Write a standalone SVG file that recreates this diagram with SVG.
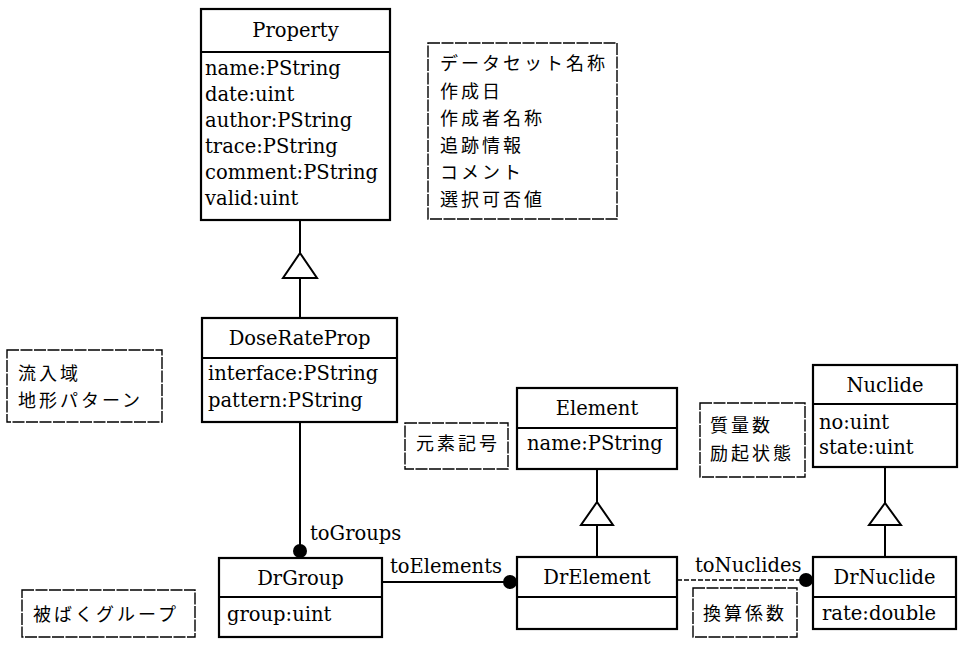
<svg xmlns="http://www.w3.org/2000/svg" width="965" height="651" viewBox="0 0 965 651">
<style>
.bg{fill:#fff}
.cls{fill:#fff;stroke:#000;stroke-width:2.2}
.div{stroke:#000;stroke-width:1.8}
.note{fill:#fff;stroke:#000;stroke-width:1.4;stroke-dasharray:12 1.5}
.t{font-family:"DejaVu Serif","Liberation Serif",serif;font-size:19.5px;fill:#000}
.c{text-anchor:middle}
.j{font-family:"Noto Sans CJK JP","Noto Sans",sans-serif;font-size:18px;letter-spacing:3px;fill:#000}
.ln{stroke:#000;stroke-width:2;fill:none}
.ln2{stroke:#000;stroke-width:1.6;fill:none;stroke-dasharray:5 2}
.tri{fill:#fff;stroke:#000;stroke-width:2}
.dot{fill:#000}
</style>
<rect class="bg" x="0" y="0" width="965" height="651"/>

<g id="Property">
<rect class="cls" x="201" y="9" width="189" height="211"/>
<line class="div" x1="201" y1="52" x2="390" y2="52"/>
<text class="t c" x="295.5" y="37">Property</text>
<text class="t" x="205" y="75">name:PString</text>
<text class="t" x="205" y="101">date:uint</text>
<text class="t" x="205" y="127">author:PString</text>
<text class="t" x="205" y="153">trace:PString</text>
<text class="t" x="205" y="179">comment:PString</text>
<text class="t" x="205" y="205">valid:uint</text>
</g>

<g id="note-property">
<rect class="note" x="428" y="43" width="189" height="176"/>
<text class="j" x="440" y="70">データセット名称</text>
<text class="j" x="440" y="98">作成日</text>
<text class="j" x="440" y="125">作成者名称</text>
<text class="j" x="440" y="152">追跡情報</text>
<text class="j" x="440" y="179">コメント</text>
<text class="j" x="440" y="206">選択可否値</text>
</g>

<g id="DoseRateProp">
<rect class="cls" x="202" y="318" width="195" height="104"/>
<line class="div" x1="202" y1="358" x2="397" y2="358"/>
<text class="t c" x="299.5" y="345">DoseRateProp</text>
<text class="t" x="208" y="380">interface:PString</text>
<text class="t" x="208" y="407">pattern:PString</text>
</g>

<g id="note-doserate">
<rect class="note" x="7" y="350" width="155" height="72"/>
<text class="j" x="18" y="380">流入域</text>
<text class="j" x="18" y="407">地形パターン</text>
</g>

<g id="note-element">
<rect class="note" x="405" y="423" width="103" height="46"/>
<text class="j" x="416" y="450">元素記号</text>
</g>

<g id="Element">
<rect class="cls" x="517" y="388" width="160" height="81"/>
<line class="div" x1="517" y1="428" x2="677" y2="428"/>
<text class="t c" x="597" y="415">Element</text>
<text class="t" x="527" y="450">name:PString</text>
</g>

<g id="note-nuclide">
<rect class="note" x="700" y="403" width="105" height="74"/>
<text class="j" x="710" y="432">質量数</text>
<text class="j" x="710" y="460">励起状態</text>
</g>

<g id="Nuclide">
<rect class="cls" x="813" y="365" width="144" height="102"/>
<line class="div" x1="813" y1="404" x2="957" y2="404"/>
<text class="t c" x="885" y="392">Nuclide</text>
<text class="t" x="819" y="429">no:uint</text>
<text class="t" x="819" y="454">state:uint</text>
</g>

<g id="note-group">
<rect class="note" x="22" y="590" width="173" height="47"/>
<text class="j" x="33" y="621">被ばくグループ</text>
</g>

<g id="DrGroup">
<rect class="cls" x="219" y="558" width="163" height="79"/>
<line class="div" x1="219" y1="597" x2="382" y2="597"/>
<text class="t c" x="300.5" y="585">DrGroup</text>
<text class="t" x="227" y="621">group:uint</text>
</g>

<g id="DrElement">
<rect class="cls" x="517" y="557" width="160" height="72"/>
<line class="div" x1="517" y1="597" x2="677" y2="597"/>
<text class="t c" x="597" y="584">DrElement</text>
</g>

<g id="note-drnuclide">
<rect class="note" x="693" y="588" width="104" height="49"/>
<text class="j" x="703" y="620">換算係数</text>
</g>

<g id="DrNuclide">
<rect class="cls" x="813" y="557" width="143" height="72"/>
<line class="div" x1="813" y1="597" x2="956" y2="597"/>
<text class="t c" x="884.5" y="584">DrNuclide</text>
<text class="t" x="822" y="620">rate:double</text>
</g>

<g id="connectors">
<line class="ln" x1="300" y1="220" x2="300" y2="253"/>
<polygon class="tri" points="300,253 283,278 317,278"/>
<line class="ln" x1="300" y1="278" x2="300" y2="318"/>

<line class="ln" x1="597" y1="469" x2="597" y2="502"/>
<polygon class="tri" points="597,502 581,525 613,525"/>
<line class="ln" x1="597" y1="525" x2="597" y2="557"/>

<line class="ln" x1="885" y1="467" x2="885" y2="503"/>
<polygon class="tri" points="885,503 869,525 901,525"/>
<line class="ln" x1="885" y1="525" x2="885" y2="557"/>

<line class="ln" x1="300" y1="422" x2="300" y2="549"/>
<circle class="dot" cx="300" cy="551" r="7"/>
<text class="t" x="310" y="540">toGroups</text>

<line class="ln" x1="382" y1="582" x2="510" y2="582"/>
<circle class="dot" cx="510" cy="582" r="7"/>
<text class="t" x="390" y="573">toElements</text>

<line class="ln2" x1="677" y1="580" x2="806" y2="580"/>
<circle class="dot" cx="806" cy="580" r="7"/>
<text class="t" x="695" y="572">toNuclides</text>
</g>
</svg>
